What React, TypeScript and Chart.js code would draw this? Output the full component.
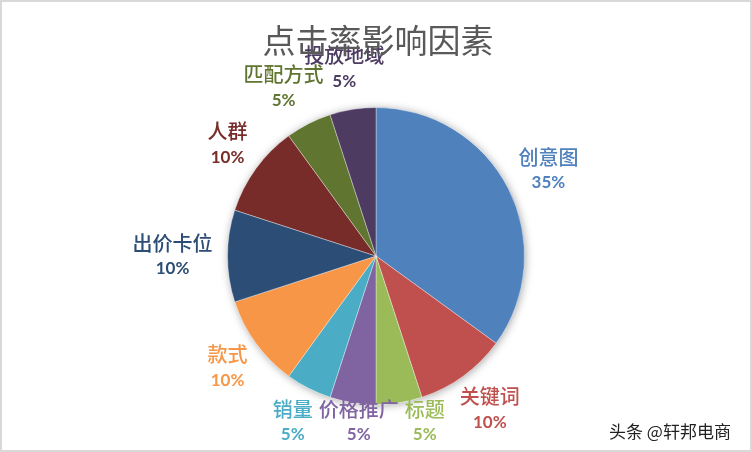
import React, { useEffect, useRef } from "react";
import { Chart, registerables } from "chart.js";

Chart.register(...registerables);

const categories = ["创意图", "关键词", "标题", "价格推广", "销量", "款式", "出价卡位", "人群", "匹配方式", "投放地域"];
const shares = [35, 10, 5, 5, 5, 10, 10, 10, 5, 5];
const sliceColors = ["#4F81BD", "#C0504D", "#9BBB59", "#8064A2", "#4BACC6", "#F79646", "#2C4D75", "#772C2A", "#5F7530", "#4D3B62"];
const labelColors = ["#4F81BD", "#C0504D", "#9BBB59", "#8064A2", "#4BACC6", "#F79646", "#2C4D75", "#772C2A", "#5F7530", "#4D3B62"];
const titleText = "点击率影响因素";
const watermark = "头条 @轩邦电商";

const W = 752;
const H = 452;

const shadowPlugin = {
  id: "pieShadow",
  beforeDatasetsDraw(chart: any) {
    const meta = chart.getDatasetMeta(0);
    const arc = meta.data[0];
    if (!arc) return;
    const { x, y, outerRadius } = arc.getProps(["x", "y", "outerRadius"], true);
    const ctx = chart.ctx;
    ctx.save();
    ctx.shadowColor = "rgba(0,0,0,0.35)";
    ctx.shadowBlur = 8;
    ctx.shadowOffsetX = 1;
    ctx.shadowOffsetY = 1;
    ctx.fillStyle = "#ffffff";
    ctx.beginPath();
    ctx.arc(x, y, outerRadius, 0, Math.PI * 2);
    ctx.fill();
    ctx.restore();
  },
};

const labelPlugin = {
  id: "outsideLabels",
  afterDatasetsDraw(chart: any) {
    const ctx = chart.ctx;
    const meta = chart.getDatasetMeta(0);
    const nameFont = '500 20px "Noto Sans CJK SC", sans-serif';
    const pctFont = 'bold 17px Lato, "Open Sans", sans-serif';
    const lineH = 26;
    const gap = 15;
    const boxes: any[] = [];
    meta.data.forEach((arc: any, i: number) => {
      const p = arc.getProps(["x", "y", "startAngle", "endAngle", "outerRadius"], true);
      const mid = (p.startAngle + p.endAngle) / 2;
      const dx = Math.cos(mid);
      const dy = Math.sin(mid);
      ctx.font = nameFont;
      const w1 = ctx.measureText(categories[i]).width;
      ctx.font = pctFont;
      const pct = shares[i] + "%";
      const w2 = ctx.measureText(pct).width;
      const w = Math.max(w1, w2);
      const h = lineH * 2;
      const px = p.x + dx * (p.outerRadius + gap);
      const py = p.y + dy * (p.outerRadius + gap);
      let cx = px + dx * w / 2;
      let cy = py + dy * h / 2;
      let clamped = false;
      const maxY = H - 32;
      if (cy > maxY) {
        cy = maxY;
        clamped = true;
      }
      boxes.push({ i, cx, cy, w, h, pct, clamped });
    });
    const bottom = boxes.filter((b) => b.clamped).sort((a, b) => a.cx - b.cx);
    for (let k = 1; k < bottom.length; k++) {
      const prev = bottom[k - 1];
      const cur = bottom[k];
      const minC = prev.cx + prev.w / 2 + 6 + cur.w / 2;
      if (cur.cx < minC) cur.cx = minC;
    }
    boxes.forEach((b) => {
      ctx.save();
      ctx.textAlign = "center";
      ctx.textBaseline = "middle";
      ctx.fillStyle = labelColors[b.i];
      ctx.font = nameFont;
      ctx.fillText(categories[b.i], b.cx, b.cy - lineH / 2);
      ctx.font = pctFont;
      ctx.fillText(b.pct, b.cx, b.cy + lineH / 2);
      ctx.restore();
    });
  },
  afterDraw(chart: any) {
    const ctx = chart.ctx;
    ctx.save();
    ctx.textAlign = "center";
    ctx.textBaseline = "middle";
    ctx.fillStyle = "#595959";
    ctx.font = '33px "Noto Sans CJK SC", sans-serif';
    ctx.fillText(titleText, 376, 38);
    ctx.font = '17px "Noto Sans CJK SC", sans-serif';
    ctx.shadowColor = "rgba(255,255,255,0.9)";
    ctx.shadowBlur = 3;
    ctx.fillStyle = "#222222";
    ctx.fillText(watermark, 668, 430);
    ctx.restore();
  },
};

export default function App() {
  const ref = useRef<HTMLCanvasElement | null>(null);
  useEffect(() => {
    if (!ref.current) return;
    const chart = new Chart(ref.current, {
      type: "pie",
      data: {
        labels: categories,
        datasets: [
          {
            data: shares,
            backgroundColor: sliceColors,
            borderColor: "rgba(255,255,255,0.35)",
            borderWidth: 1,
          },
        ],
      },
      options: {
        animation: false,
        responsive: false,
        maintainAspectRatio: false,
        layout: { padding: { top: 105, bottom: 45, left: 0, right: 0 } },
        plugins: {
          legend: { display: false },
          title: { display: false },
          tooltip: { enabled: false },
        },
      },
      plugins: [shadowPlugin, labelPlugin],
    });
    return () => chart.destroy();
  }, []);
  return (
    <div
      style={{
        position: "fixed",
        left: 0,
        top: 0,
        width: W,
        height: H,
        boxSizing: "border-box",
        border: "2px solid #d9d9d9",
        background: "#ffffff",
        overflow: "hidden",
      }}
    >
      <canvas ref={ref} width={W - 4} height={H - 4} style={{ display: "block", width: W - 4, height: H - 4 }} />
    </div>
  );
}
